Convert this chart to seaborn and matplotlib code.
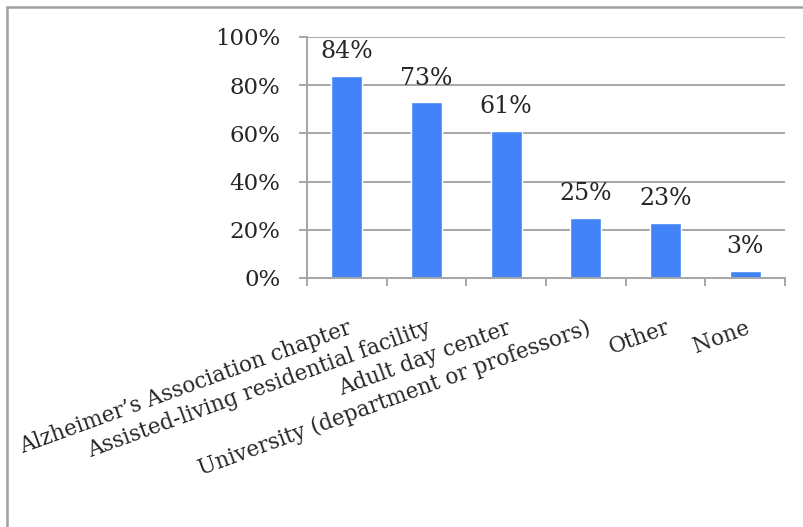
import matplotlib
matplotlib.use("Agg")
import matplotlib.pyplot as plt
import seaborn as sns
import pandas as pd
from matplotlib.patches import Rectangle
from matplotlib.ticker import FixedLocator, PercentFormatter

# data
categories = [
    "Alzheimer\u2019s Association chapter",
    "Assisted-living residential facility",
    "Adult day center",
    "University (department or professors)",
    "Other",
    "None",
]
percent = [84, 73, 61, 25, 23, 3]
y_ticks = [0, 20, 40, 60, 80, 100]

df = pd.DataFrame({"category": categories, "percent": percent})

sns.set_theme(style="white")
plt.rcParams["font.family"] = ["DejaVu Serif"]

fig = plt.figure(figsize=(8.04, 5.27), dpi=100)
ax = fig.add_axes([0.3818, 0.4725, 0.5945, 0.4573])

sns.barplot(data=df, x="category", y="percent", color="#4383f8",
            width=0.39, saturation=1, ax=ax)

ax.set_ylim(0, 100)
ax.set_xlim(-0.5, len(categories) - 0.5)
ax.set_yticks(y_ticks)
ax.yaxis.set_major_formatter(PercentFormatter(decimals=0))
ax.yaxis.grid(True, color="#a6a6a6", linewidth=1.4)
ax.set_axisbelow(True)

for s in ["top", "right"]:
    ax.spines[s].set_visible(False)
for s in ["left", "bottom"]:
    ax.spines[s].set_color("#a6a6a6")
    ax.spines[s].set_linewidth(1.4)

ax.tick_params(axis="y", length=6, width=1.4, color="#a6a6a6",
               labelsize=16.5, pad=13, left=True)
ax.tick_params(axis="x", which="major", length=0, labelsize=15.5, pad=28)
ax.xaxis.set_minor_locator(FixedLocator([i - 0.5 for i in range(len(categories) + 1)]))
ax.tick_params(axis="x", which="minor", length=6, width=1.4,
               color="#a6a6a6", bottom=True)
ax.set_xticks(range(len(categories)))
ax.set_xticklabels(categories, rotation=20, ha="right", rotation_mode="anchor")

ax.set_xlabel("")
ax.set_ylabel("")

for i, v in enumerate(percent):
    ax.annotate(f"{v}%", (i, v), xytext=(0, 9), textcoords="offset points",
                ha="center", va="bottom", fontsize=17)

# outer frame (only top/left edges visible in the reference)
fig.patches.append(Rectangle((0.0087, -0.05), 1.2, 0.0367 + 1.0, transform=fig.transFigure,
                             fill=False, edgecolor="#a0a0a0", linewidth=1.8))

fig.savefig("out.png", dpi=100)
